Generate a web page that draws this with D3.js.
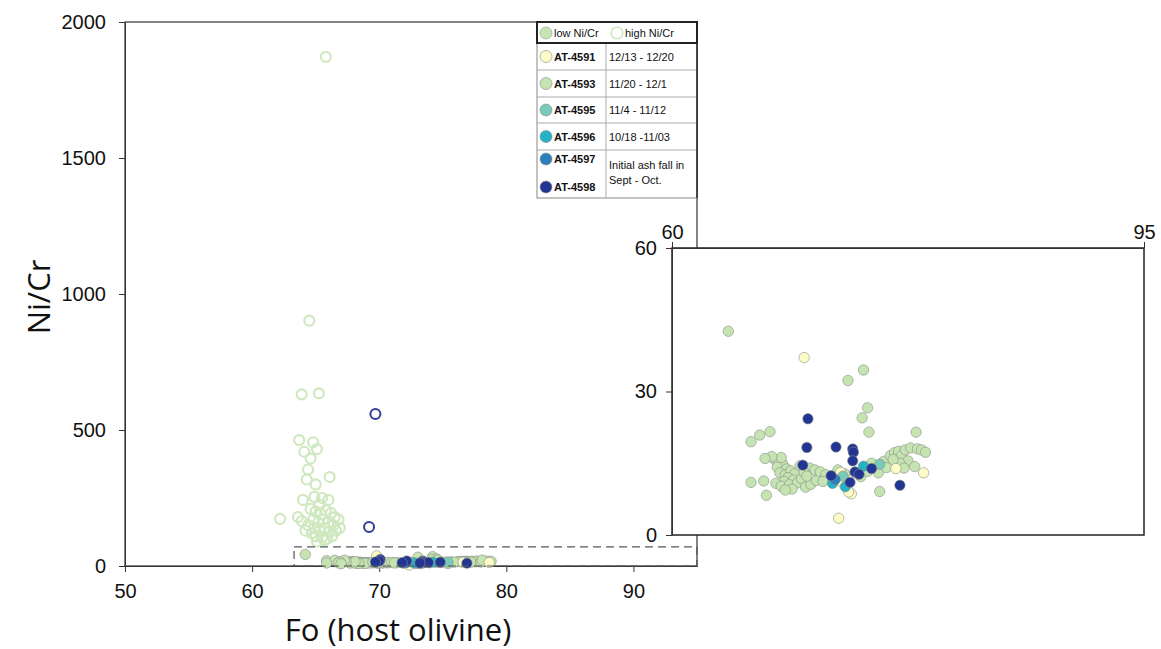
<!DOCTYPE html>
<html>
<head>
<meta charset="utf-8">
<script src="https://cdn.jsdelivr.net/npm/d3@7"></script>
<style>
  body { margin: 0; background: #fff; }
  text { font-family: "Liberation Sans", Arial, sans-serif; fill: #111; }
  .title { font-family: "Open Sans", "Noto Sans", sans-serif; }
</style>
</head>
<body>
<svg id="chart" width="1161" height="649"></svg>
<script>
// ticks
const foTicks = [50, 60, 70, 80, 90];
const niTicks = [0, 500, 1000, 1500, 2000];
const insetNiTicks = [0, 30, 60];
const insetFoTicks = [60, 95];

// high Ni/Cr (open circles) [Fo, Ni/Cr]
const highGreen = [[65.8,1872],[64.5,902],[63.9,631],[65.25,635],[63.7,463],[64.8,455],[65.1,430],[64.6,395],
  [64.4,355],[64.3,318],[66.1,327],[65.0,300],[63.6,180],[62.2,173],[64.0,243],[64.9,254],[65.5,250],[66.0,243],
  [64.6,210],[65.0,200],[65.4,190],[65.8,205],[66.2,195],[66.5,180],[64.8,170],[65.2,160],[65.6,170],[66.0,160],
  [66.4,150],[64.4,150],[64.9,140],[65.3,130],[65.7,140],[66.1,125],[66.6,130],[65.0,110],[65.5,105],[65.9,100],
  [66.3,110],[64.7,120],[63.9,165],[66.8,170],[64.2,130],[65.1,90],[65.7,95],[66.9,140],[65.3,225],[64.1,420]];
const highNavy = [[69.7,559],[69.2,143]];

// low Ni/Cr (filled circles) by sample [Fo, Ni/Cr]
const at4593 = [[67.6,15.8],[67.9,15.5],[68.2,14.9],[67.8,14.2],[68.5,13.8],[68.0,13.0],[68.4,12.6],[68.8,13.4],
  [69.1,12.8],[68.6,12.0],[69.0,11.5],[68.3,11.2],[67.7,10.8],[68.1,10.2],[68.7,10.5],[69.3,10.9],[69.6,11.8],
  [69.9,10.0],[70.3,10.6],[70.7,11.4],[68.9,9.6],[68.4,9.4],[69.5,14.5],[70.2,14.0],[70.6,13.6],[71.0,13.2],
  [71.4,12.6],[69.8,13.1],[68.1,16.2],[67.4,16.4],[71.2,11.2],[70.0,12.3],
  [72.3,13.6],[72.8,12.8],[73.6,13.0],[74.0,12.2],[74.5,13.3],[75.0,14.6],[75.3,13.0],[75.7,15.4],[74.8,15.0],
  [76.2,16.6],[76.5,17.2],[76.8,17.5],[77.0,16.5],[77.3,17.8],[77.7,18.2],[78.2,18.0],[78.5,17.8],[78.8,17.3],
  [77.5,15.5],[76.9,15.0],[77.2,14.0],[78.0,14.3],[76.4,15.8],[75.9,14.1],
  [64.18,42.6],[74.2,34.5],[73.05,32.3],[74.5,26.6],[74.1,24.5],[74.6,21.5],[78.1,21.5],[65.86,19.5],[66.5,20.9],
  [67.27,21.6],[66.9,16.0],[65.86,11.0],[66.8,11.3],[67.0,8.3],[75.4,9.1]];
const at4591 = [[69.8,37.1],[76.6,13.9],[78.66,13.0],[72.5,13.1],[72.6,11.1],[73.3,8.6],[72.36,3.5],[73.1,9.0]];
const at4595 = [[75.4,14.8],[72.68,12.3]];
const at4596 = [[74.2,14.4],[71.9,10.8],[72.85,10.1]];
const at4597 = [[72.1,11.6]];
const at4598 = [[70.08,24.3],[70.0,18.3],[72.16,18.4],[73.4,18.0],[73.45,17.3],[73.4,15.5],[69.7,14.6],[74.8,13.9],
  [73.57,13.2],[73.87,12.7],[71.8,12.4],[73.2,11.0],[76.9,10.4]];

// legend
const sampleNames = ["AT-4591","AT-4593","AT-4595","AT-4596","AT-4597","AT-4598"];
const sampleColors = ["#fdfbc6","#c5e4b2","#78cbb8","#22b4c6","#2a7fbc","#233593"];
const sampleDates = ["12/13 - 12/20","11/20 - 12/1","11/4 - 11/12","10/18 -11/03"];

const svg = d3.select("#chart");
const x = d3.scaleLinear().domain([50, 95]).range([125, 697]);
const y = d3.scaleLinear().domain([0, 2000]).range([566, 22]);
const xi = d3.scaleLinear().domain([60, 95]).range([672, 1144]);
const yi = d3.scaleLinear().domain([0, 60]).range([535, 248]);

const lowSets = [
  {data: at4593, color: sampleColors[1]},
  {data: at4591, color: sampleColors[0]},
  {data: at4595, color: sampleColors[2]},
  {data: at4596, color: sampleColors[3]},
  {data: at4597, color: sampleColors[4]},
  {data: at4598, color: sampleColors[5]}
];

function styleAxis(g) {
  g.attr("font-family", "Liberation Sans, Arial, sans-serif").attr("font-size", 20);
  g.select(".domain").attr("stroke", "#333");
  g.selectAll(".tick line").attr("stroke", "#333");
  g.selectAll(".tick text").attr("fill", "#111");
}

// main frame
svg.append("rect").attr("x", x(50)).attr("y", y(2000))
  .attr("width", x(95) - x(50)).attr("height", y(0) - y(2000))
  .attr("fill", "none").attr("stroke", "#333").attr("stroke-width", 1.2);

const ax = svg.append("g").attr("transform", "translate(0," + y(0) + ")")
  .call(d3.axisBottom(x).tickValues(foTicks).tickSize(6).tickSizeOuter(0).tickFormat(d3.format("d")));
const ay = svg.append("g").attr("transform", "translate(" + x(50) + ",0)")
  .call(d3.axisLeft(y).tickValues(niTicks).tickSize(6).tickSizeOuter(0).tickFormat(d3.format("d")));
styleAxis(ax);
styleAxis(ay);
ax.selectAll(".tick text").attr("dy", "1.15em");
ay.selectAll(".tick text").attr("dx", "-0.5em");

svg.append("text").attr("class", "title")
  .attr("transform", "translate(50,297) rotate(-90)")
  .attr("text-anchor", "middle").style("font-size", "31px").text("Ni/Cr");
svg.append("text").attr("class", "title")
  .attr("x", 398).attr("y", 641)
  .attr("text-anchor", "middle").style("font-size", "31px").text("Fo (host olivine)");

// high Ni/Cr open circles
svg.append("g").selectAll("circle").data(highGreen).join("circle")
  .attr("cx", d => x(d[0])).attr("cy", d => y(d[1])).attr("r", 5)
  .attr("fill", "none").attr("stroke", "#cfe8c0").attr("stroke-width", 2.2);
svg.append("g").selectAll("circle").data(highNavy).join("circle")
  .attr("cx", d => x(d[0])).attr("cy", d => y(d[1])).attr("r", 5)
  .attr("fill", "none").attr("stroke", "#2f3f96").attr("stroke-width", 2);

// low Ni/Cr on main plot
lowSets.forEach(s => {
  svg.append("g").selectAll("circle").data(s.data).join("circle")
    .attr("cx", d => x(d[0])).attr("cy", d => y(d[1])).attr("r", 5.2)
    .attr("fill", s.color).attr("stroke", "#8a8f86").attr("stroke-width", 0.6);
});

// dashed zoom box
svg.append("rect").attr("x", x(63.3)).attr("y", y(70))
  .attr("width", x(95) - x(63.3)).attr("height", y(0) - y(70))
  .attr("fill", "none").attr("stroke", "#555").attr("stroke-width", 1.2)
  .attr("stroke-dasharray", "8,5");

// legend
const lg = svg.append("g");
const lx0 = 537, lx1 = 697, lmid = 606;
const rowY = [43, 70, 97, 123, 150, 198];
lg.append("rect").attr("x", lx0).attr("y", 22).attr("width", lx1 - lx0).attr("height", 176)
  .attr("fill", "#fff").attr("stroke", "#888").attr("stroke-width", 1);
rowY.slice(0, 5).forEach(r => {
  lg.append("line").attr("x1", lx0).attr("x2", lx1).attr("y1", r).attr("y2", r)
    .attr("stroke", "#aaa").attr("stroke-width", 1);
});
lg.append("line").attr("x1", lmid).attr("x2", lmid).attr("y1", 43).attr("y2", 198)
  .attr("stroke", "#aaa");
lg.append("line").attr("x1", lx1).attr("x2", lx1).attr("y1", 22).attr("y2", 198)
  .attr("stroke", "#222").attr("stroke-width", 1.5);
lg.append("rect").attr("x", lx0).attr("y", 22).attr("width", lx1 - lx0).attr("height", 21)
  .attr("fill", "none").attr("stroke", "#222").attr("stroke-width", 2);
lg.append("circle").attr("cx", 546).attr("cy", 33).attr("r", 6)
  .attr("fill", sampleColors[1]).attr("stroke", "#999").attr("stroke-width", 0.6);
lg.append("text").attr("x", 554).attr("y", 37).style("font-size", "11px").text("low Ni/Cr");
lg.append("circle").attr("cx", 617).attr("cy", 33).attr("r", 5.8)
  .attr("fill", "none").attr("stroke", "#cfe8c0").attr("stroke-width", 1.6);
lg.append("text").attr("x", 625).attr("y", 37).style("font-size", "11px").text("high Ni/Cr");

const nameY = [56.5, 83.5, 110, 136.5, 159, 187];
sampleNames.forEach((n, i) => {
  lg.append("circle").attr("cx", 546).attr("cy", nameY[i]).attr("r", 6)
    .attr("fill", sampleColors[i]).attr("stroke", "#888").attr("stroke-width", 0.6);
  lg.append("text").attr("x", 554).attr("y", nameY[i] + 4)
    .style("font-size", "11px").style("font-weight", "bold").text(n);
});
sampleDates.forEach((t, i) => {
  lg.append("text").attr("x", 609).attr("y", nameY[i] + 4).style("font-size", "11px").text(t);
});
lg.append("text").attr("x", 609).attr("y", 169).style("font-size", "11px").text("Initial ash fall in");
lg.append("text").attr("x", 609).attr("y", 184).style("font-size", "11px").text("Sept - Oct.");

// inset
const ins = svg.append("g");
ins.append("rect").attr("x", xi(60)).attr("y", yi(60))
  .attr("width", xi(95) - xi(60)).attr("height", yi(0) - yi(60))
  .attr("fill", "#fff").attr("stroke", "#222").attr("stroke-width", 1.5);
const iay = ins.append("g").attr("transform", "translate(" + xi(60) + ",0)")
  .call(d3.axisLeft(yi).tickValues(insetNiTicks).tickSize(6).tickSizeOuter(0));
const iax = ins.append("g").attr("transform", "translate(0," + yi(60) + ")")
  .call(d3.axisTop(xi).tickValues(insetFoTicks).tickSize(6).tickSizeOuter(0));
styleAxis(iax);
styleAxis(iay);
iay.selectAll(".tick text").attr("dx", "-0.3em");

lowSets.forEach(s => {
  ins.append("g").selectAll("circle").data(s.data).join("circle")
    .attr("cx", d => xi(d[0])).attr("cy", d => yi(d[1])).attr("r", 5.2)
    .attr("fill", s.color).attr("stroke", "#8a8f86").attr("stroke-width", 0.6);
});
</script>
</body>
</html>
